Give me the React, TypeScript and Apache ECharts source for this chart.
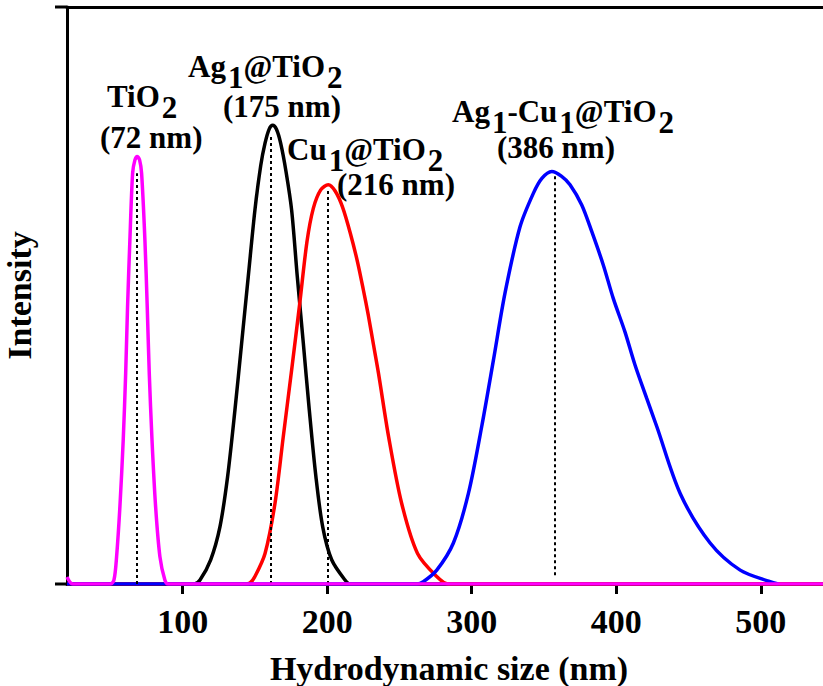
import React, { useEffect, useRef } from "react";
import * as echarts from "echarts";

// ---- data (x: hydrodynamic size in nm, y: intensity in arbitrary units 0–100)
const tio2Curve: number[][] = [
  [20, 1.2], [24, 0], [50, 0], [52.5, 0.7], [54.3, 4.7], [56.6, 13.4], [58.9, 25], [60.6, 36.6],
  [61.9, 48.1], [63.5, 59.6], [65.4, 71.2], [67, 73.5], [68.6, 74.1], [70.2, 73.5], [71.6, 71.2],
  [73.9, 59.6], [75.5, 48.1], [76.9, 36.6], [78.8, 25], [81.3, 13.4], [84.3, 4.7], [87.7, 0.7],
  [90, 0], [543, 0],
];
const agCurve: number[][] = [
  [20, 0], [108, 0], [112, 0.7], [119.4, 4.2], [125.8, 9.9], [131.1, 18.6], [136.2, 30.2],
  [140.8, 41.7], [145.4, 53.3], [150, 64.8], [154, 72.5], [157, 76.4], [159.8, 78.8], [162.3, 79.5],
  [164.9, 78.8], [167.8, 76.4], [171.5, 71.5], [175.4, 64.8], [179.3, 53.3], [183.5, 41.7],
  [187.6, 30.2], [192.2, 18.6], [196.9, 9.9], [203.1, 4.2], [212.3, 0.7], [216, 0], [543, 0],
];
const cuCurve: number[][] = [
  [20, 0], [143, 0], [146.6, 0.2], [150, 1.3], [157, 5.3], [163.9, 14], [169.6, 25.5], [175.4, 37.1],
  [181, 48.6], [186, 59.3], [190.4, 65.1], [195.5, 68.3], [200.8, 69.2], [205.5, 68.1], [210.5, 65.4],
  [216, 60.8], [221, 55.8], [225, 51], [228.5, 46.5], [232, 41.5], [235.5, 36.5], [242.5, 25.5],
  [251.5, 14], [262.5, 5.3], [275.8, 1.3], [283.8, 0], [543, 0],
];
const agCuCurve: number[][] = [
  [20, 0], [262, 0], [266.5, 0.4], [275.8, 2.4], [287.3, 7.1], [297.7, 15.7], [306.9, 27.3],
  [315, 38.8], [323, 50.4], [333.4, 61.9], [342.6, 67.7], [348.5, 70.3], [355.4, 71.5],
  [362, 70.7], [368, 69.2], [376.1, 65.7], [383, 61.1], [391, 55.3], [397.9, 49.5], [406, 43.7],
  [412.9, 38], [421, 32.2], [428, 27.3], [444.2, 15.7], [464.9, 7.1], [485.7, 2.4], [506.4, 0.4],
  [512, 0],
];

// dotted drop lines at the peak positions
const dropX = [68.2, 160.9, 200.3, 357.2];
const dropBottom = [0, 0, 0, 1.5];
const dropTop = [71.2, 77.5, 68.3, 70.9];

const xTicks = [100, 200, 300, 400, 500];
const xMin = 20;
const xMax = 543;
const yMin = 0;
const yMax = 100;

const seriesNames = ["Ag1@TiO2", "Cu1@TiO2", "Ag1-Cu1@TiO2", "TiO2"];
const seriesColors = ["#000000", "#ff0000", "#0000ff", "#ff00ff"];
const seriesData = [agCurve, cuCurve, agCuCurve, tio2Curve];
const seriesDrop = [1, 2, 3, 0];

const FONT = "'Liberation Serif', 'Times New Roman', serif";

export default function App() {
  const ref = useRef<HTMLDivElement>(null);

  useEffect(() => {
    if (!ref.current) return;
    const chart = echarts.init(ref.current, undefined, { renderer: "svg" });

    const SUB = 11;
    const annStyle = (text: string) => ({
      text,
      fontFamily: FONT,
      fontWeight: "bold",
      fontSize: 31,
      fill: "#000",
      align: "left",
      verticalAlign: "top",
      rich: {
        m: { fontFamily: FONT, fontWeight: "bold", fontSize: 31, fill: "#000", padding: [0, 0, SUB, 0] },
        s: { fontFamily: FONT, fontWeight: "bold", fontSize: 31, fill: "#000", padding: [SUB, 0, 0, 2] },
      },
    });

    const annotations = [
      { text: "{m|TiO}{s|2}", left: 107, top: 81 },
      { text: "(72 nm)", left: 100, top: 122 },
      { text: "{m|Ag}{s|1}{m|@TiO}{s|2}", left: 188, top: 51 },
      { text: "(175 nm)", left: 223, top: 91 },
      { text: "{m|Cu}{s|1}{m|@TiO}{s|2}", left: 287, top: 134 },
      { text: "(216 nm)", left: 337, top: 169 },
      { text: "{m|Ag}{s|1}{m|-Cu}{s|1}{m|@TiO}{s|2}", left: 452, top: 96 },
      { text: "(386 nm)", left: 497, top: 132 },
    ];

    const option: any = {
      animation: false,
      backgroundColor: "#ffffff",
      grid: { left: 67, right: 0, top: 7, bottom: 102, containLabel: false, outerBoundsMode: "none" },
      xAxis: [
        {
          type: "value",
          min: xMin,
          max: xMax,
          position: "bottom",
          name: "Hydrodynamic size (nm)",
          nameLocation: "middle",
          nameGap: 67,
          nameTextStyle: {
            fontFamily: FONT,
            fontWeight: "bold",
            fontSize: 34,
            color: "#000",
            padding: [0, 0, 0, 8],
          },
          axisLine: { show: true, lineStyle: { color: "#000", width: 3 } },
          axisTick: {
            show: true,
            customValues: xTicks,
            length: 10,
            lineStyle: { color: "#000", width: 3 },
          },
          axisLabel: {
            show: true,
            customValues: xTicks,
            margin: 20,
            fontFamily: FONT,
            fontWeight: "bold",
            fontSize: 34,
            color: "#000",
          },
          splitLine: { show: false },
        },
        {
          type: "value",
          min: xMin,
          max: xMax,
          position: "top",
          axisLine: { show: true, lineStyle: { color: "#000", width: 3 } },
          axisTick: { show: false },
          axisLabel: { show: false },
          splitLine: { show: false },
        },
      ],
      yAxis: {
        type: "value",
        min: yMin,
        max: yMax,
        name: "Intensity",
        nameLocation: "middle",
        nameGap: 31,
        nameRotate: 90,
        nameTextStyle: { fontFamily: FONT, fontWeight: "bold", fontSize: 34, color: "#000" },
        axisLine: { show: true, lineStyle: { color: "#000", width: 3 } },
        axisTick: { show: false },
        axisLabel: { show: false },
        splitLine: { show: false },
      },
      series: seriesData.map((data, i) => {
        const d = seriesDrop[i];
        return {
          name: seriesNames[i],
          type: "line",
          xAxisIndex: 0,
          data,
          showSymbol: false,
          symbol: "none",
          smooth: 0.3,
          lineStyle: { color: seriesColors[i], width: 3.5 },
          itemStyle: { color: seriesColors[i] },
          z: 2 + i,
          markLine: {
            silent: true,
            symbol: "none",
            label: { show: false },
            lineStyle: { color: "#000", type: [3, 3], width: 2 },
            data: [[{ coord: [dropX[d], dropBottom[d]] }, { coord: [dropX[d], dropTop[d]] }]],
          },
        };
      }),
      graphic: [
        { type: "line", shape: { x1: 55, y1: 584, x2: 67, y2: 584 }, style: { stroke: "#000", lineWidth: 3 } },
        { type: "line", shape: { x1: 55, y1: 7, x2: 67, y2: 7 }, style: { stroke: "#000", lineWidth: 3 } },
        ...annotations.map((a) => ({
          type: "text",
          left: a.left,
          top: a.top,
          style: annStyle(a.text),
        })),
      ],
    };

    chart.setOption(option);
    return () => chart.dispose();
  }, []);

  return (
    <div
      ref={ref}
      style={{ position: "fixed", left: 0, top: 0, width: 823, height: 686, background: "#fff" }}
    />
  );
}
